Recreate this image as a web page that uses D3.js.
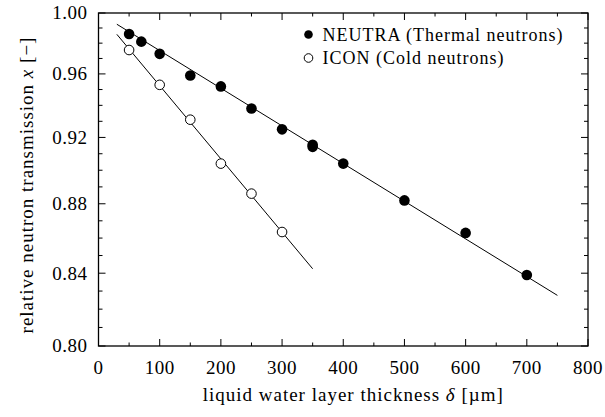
<!DOCTYPE html>
<html>
<head>
<meta charset="utf-8">
<script src="https://cdn.jsdelivr.net/npm/d3@7"></script>
<style>
  html, body { margin: 0; padding: 0; background: #fff; }
  svg text { font-family: "Liberation Serif", "Times New Roman", serif; fill: #000; }
</style>
</head>
<body>
<div id="chart"></div>
<script>
// Relative neutron transmission vs. liquid water layer thickness (log y axis).

const neutraX = [50, 70, 100, 150, 200, 250, 300, 350, 350, 400, 500, 600, 700];
const neutraY = [0.986, 0.981, 0.973, 0.959, 0.952, 0.938, 0.925, 0.9155, 0.9142, 0.904, 0.882, 0.863, 0.839];
const iconX = [50, 100, 150, 200, 250, 300];
const iconY = [0.9755, 0.953, 0.931, 0.904, 0.886, 0.8635];
// fitted exponential lines, endpoints
const neutraFitX = [30, 750];
const neutraFitY = [0.9925, 0.8276];
const iconFitX = [30, 350];
const iconFitY = [0.9858, 0.8425];

const xTicks = [0, 100, 200, 300, 400, 500, 600, 700, 800];
const xMinor = [50, 150, 250, 350, 450, 550, 650, 750];
const yTicks = [0.80, 0.84, 0.88, 0.92, 0.96, 1.00];
const yMinor = [0.81, 0.82, 0.83, 0.85, 0.86, 0.87, 0.89, 0.90, 0.91, 0.93, 0.94, 0.95, 0.97, 0.98, 0.99];
const legendLabels = ["NEUTRA (Thermal neutrons)", "ICON (Cold neutrons)"];

const width = 605, height = 417;
const m = { top: 13, right: 17, bottom: 71, left: 98.5 };
const iw = width - m.left - m.right;
const ih = height - m.top - m.bottom;

const svg = d3.select("#chart").append("svg")
  .attr("width", width).attr("height", height).attr("viewBox", `0 0 ${width} ${height}`);
const g = svg.append("g").attr("transform", `translate(${m.left},${m.top})`);

const x = d3.scaleLinear().domain([0, 800]).range([0, iw]);
const y = d3.scaleLog().domain([0.80, 1.00]).range([ih, 0]);

// ticks on all four sides, pointing inward
function tickSet(vals, len, side) {
  const sel = g.append("g").selectAll("line").data(vals).join("line")
    .attr("stroke", "#000").attr("stroke-width", 1);
  if (side === "bottom") sel.attr("x1", (d) => x(d)).attr("x2", (d) => x(d)).attr("y1", ih).attr("y2", ih - len);
  if (side === "top") sel.attr("x1", (d) => x(d)).attr("x2", (d) => x(d)).attr("y1", 0).attr("y2", len);
  if (side === "left") sel.attr("y1", (d) => y(d)).attr("y2", (d) => y(d)).attr("x1", 0).attr("x2", len);
  if (side === "right") sel.attr("y1", (d) => y(d)).attr("y2", (d) => y(d)).attr("x1", iw).attr("x2", iw - len);
}
tickSet(xTicks, 7, "bottom"); tickSet(xMinor, 3.5, "bottom");
tickSet(xTicks, 7, "top"); tickSet(xMinor, 3.5, "top");
tickSet(yTicks, 7, "left"); tickSet(yMinor, 4, "left");
tickSet(yTicks, 7, "right"); tickSet(yMinor, 4, "right");

g.append("rect").attr("x", 0).attr("y", 0).attr("width", iw).attr("height", ih)
  .attr("fill", "none").attr("stroke", "#000").attr("stroke-width", 1.3);

g.append("g").selectAll("text").data(xTicks).join("text")
  .attr("x", (d) => x(d)).attr("y", ih + 28)
  .attr("text-anchor", "middle").attr("font-size", 19).attr("letter-spacing", 0.5).text((d) => d);
g.append("g").selectAll("text").data(yTicks).join("text")
  .attr("x", -11).attr("y", (d) => y(d)).attr("dy", "0.34em")
  .attr("text-anchor", "end").attr("font-size", 19).attr("letter-spacing", 0.5).text(d3.format(".2f"));

// axis titles
const xt = svg.append("text").attr("x", m.left + iw / 2 + 10).attr("y", 401)
  .attr("text-anchor", "middle").attr("font-size", 19).attr("letter-spacing", 1);
xt.append("tspan").text("liquid water layer thickness ");
xt.append("tspan").attr("font-style", "italic").text("δ");
xt.append("tspan").text(" [µm]");

const yt = svg.append("text").attr("transform", `translate(33,${m.top + 172}) rotate(-90)`)
  .attr("text-anchor", "middle").attr("font-size", 19).attr("letter-spacing", 1);
yt.append("tspan").text("relative neutron transmission ");
yt.append("tspan").attr("font-style", "italic").text("x");
yt.append("tspan").text(" [−]");

// fit lines
const line = d3.line().x((d) => x(d[0])).y((d) => y(d[1]));
g.append("path").datum(d3.zip(neutraFitX, neutraFitY))
  .attr("fill", "none").attr("stroke", "#000").attr("stroke-width", 1).attr("d", line);
g.append("path").datum(d3.zip(iconFitX, iconFitY))
  .attr("fill", "none").attr("stroke", "#000").attr("stroke-width", 1).attr("d", line);

// markers
g.append("g").selectAll("circle").data(d3.zip(neutraX, neutraY)).join("circle")
  .attr("cx", (d) => x(d[0])).attr("cy", (d) => y(d[1])).attr("r", 5.3).attr("fill", "#000");
g.append("g").selectAll("circle").data(d3.zip(iconX, iconY)).join("circle")
  .attr("cx", (d) => x(d[0])).attr("cy", (d) => y(d[1])).attr("r", 4.8)
  .attr("fill", "#fff").attr("stroke", "#000").attr("stroke-width", 1);

// legend
const leg = svg.append("g").attr("transform", "translate(308.5,34.5)");
leg.selectAll("circle").data(legendLabels).join("circle")
  .attr("cx", 0).attr("cy", (d, i) => i * 23.5).attr("r", 4.3)
  .attr("fill", (d, i) => (i === 0 ? "#000" : "#fff"))
  .attr("stroke", "#000").attr("stroke-width", (d, i) => (i === 0 ? 0 : 1));
leg.selectAll("text").data(legendLabels).join("text")
  .attr("x", 14).attr("y", (d, i) => i * 23.5).attr("dy", "0.36em")
  .attr("font-size", 18).attr("letter-spacing", 1).text((d) => d);
</script>
</body>
</html>
